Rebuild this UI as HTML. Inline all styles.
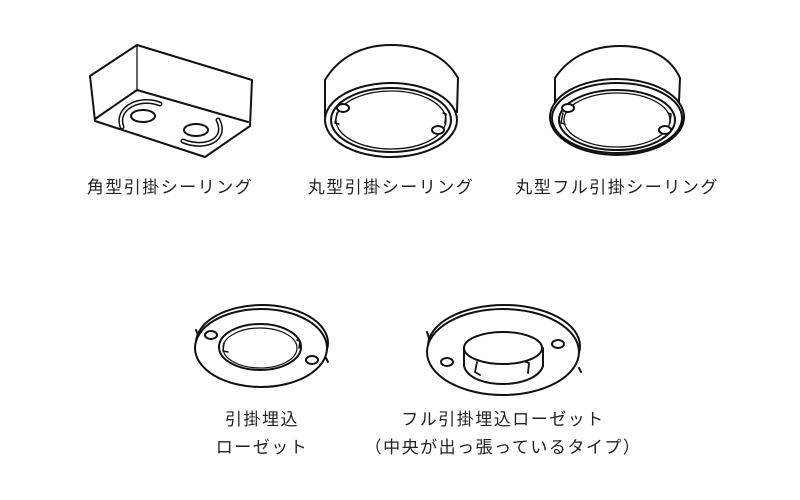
<!DOCTYPE html>
<html><head><meta charset="utf-8"><style>
html,body{margin:0;padding:0;background:#fff;}
svg{display:block}
text{font-family:"Liberation Sans","Noto Sans CJK JP",sans-serif;font-size:17px;letter-spacing:1.5px;fill:#222;}
</style></head><body>
<svg width="800" height="500" viewBox="0 0 800 500" xmlns="http://www.w3.org/2000/svg">
<g fill="none" stroke="#111" stroke-width="2" stroke-linejoin="round" stroke-linecap="round">
<path d="M90,76 L137,45 L252,80 L250,126 L205,157 L95,121 Z"/>
<path d="M137,45 L137,90" stroke-width="1.3"/>
<path d="M95,119 L137,90 L248,122"/>
<ellipse cx="143" cy="116" rx="12" ry="6"/>
<path d="M160,104 C140,96 115,108 122,127" stroke-width="5"/>
<path d="M160,104 C140,96 115,108 122,127" stroke="#fff" stroke-width="2"/>
<ellipse cx="196" cy="130" rx="12" ry="6"/>
<path d="M218,120 C228,140 205,150 183,141" stroke-width="5"/>
<path d="M218,120 C228,140 205,150 183,141" stroke="#fff" stroke-width="2"/>
<path d="M325,117 L325,80 C340,55 365,45 391,45 C420,45 445,55 458,78 L457,112"/>
<ellipse cx="391" cy="120" rx="66" ry="37" fill="#fff"/>
<ellipse cx="391" cy="120" rx="60" ry="32"/>
<ellipse cx="391" cy="120" rx="55" ry="29" stroke-width="1.3"/>
<ellipse cx="343" cy="108" rx="6" ry="4" fill="#fff"/>
<ellipse cx="438" cy="130" rx="6" ry="4" fill="#fff"/>
<path d="M337,113 l-2,10 4,1" stroke-width="1.5"/>
<path d="M443,113 l3,1 -1,9" stroke-width="1.5"/>
<path d="M555,108 L555,78 C570,55 595,46 620,46 C648,46 670,56 680,78 L679,102"/>
<ellipse cx="617" cy="117" rx="67" ry="38" fill="#fff"/>
<ellipse cx="617" cy="118" rx="65" ry="35"/>
<ellipse cx="617" cy="120" rx="58" ry="30"/>
<ellipse cx="617" cy="120" rx="53" ry="27" stroke-width="1.3"/>
<ellipse cx="568" cy="108" rx="6" ry="4" fill="#fff"/>
<ellipse cx="665" cy="130" rx="6" ry="4" fill="#fff"/>
<path d="M563,113 l-2,10 4,1" stroke-width="1.5"/>
<path d="M668,113 l3,1 -1,9" stroke-width="1.5"/>
<ellipse cx="262" cy="343" rx="66" ry="38"/>
<ellipse cx="261" cy="348" rx="66" ry="39" fill="#fff"/>
<ellipse cx="260" cy="347" rx="41" ry="23"/>
<ellipse cx="260" cy="348" rx="37" ry="20" stroke-width="1.2"/>
<ellipse cx="211" cy="335" rx="6" ry="4"/>
<ellipse cx="312" cy="360" rx="6" ry="4"/>
<path d="M224,343 l-1,8 5,1" stroke-width="1.5"/>
<path d="M297,340 l3,1 -1,7" stroke-width="1.5"/>
<path d="M196,330 l2,5"/>
<path d="M326,358 l2,4"/>
<ellipse cx="504" cy="346" rx="76" ry="41"/>
<ellipse cx="503" cy="352" rx="76" ry="43" fill="#fff"/>
<path d="M464,348 L464,366 C470,390 535,390 543,366 L543,348"/>
<ellipse cx="503" cy="348" rx="39" ry="16" fill="#fff"/>
<ellipse cx="447" cy="362" rx="6" ry="4"/>
<ellipse cx="558" cy="344" rx="6" ry="4"/>
<path d="M477,362 l-2,10 5,3" stroke-width="1.8"/>
<path d="M526,362 l3,1 -1,10" stroke-width="1.8"/>
<path d="M427,332 l2,6"/>
<path d="M579,368 l2,4"/>
</g>
<text x="170" y="193" text-anchor="middle">角型引掛シーリング</text>
<text x="391" y="193" text-anchor="middle">丸型引掛シーリング</text>
<text x="617" y="193" text-anchor="middle">丸型フル引掛シーリング</text>
<text x="262" y="425" text-anchor="middle">引掛埋込</text>
<text x="262" y="453" text-anchor="middle">ローゼット</text>
<text x="503" y="425" text-anchor="middle">フル引掛埋込ローゼット</text>
<text x="503" y="453" text-anchor="middle">（中央が出っ張っているタイプ）</text>
</svg>
</body></html>
